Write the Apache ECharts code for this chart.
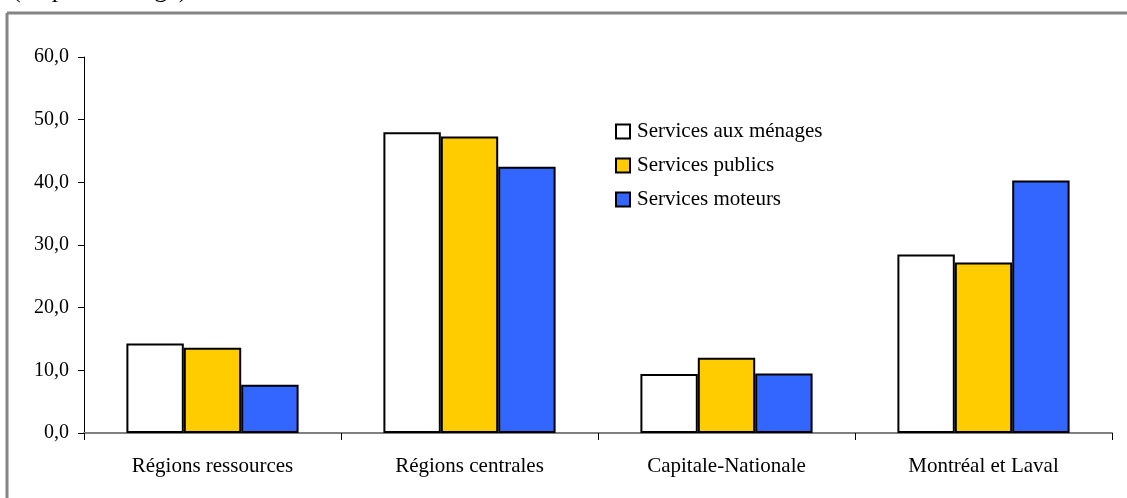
<!DOCTYPE html>
<html>
<head>
<meta charset="utf-8">
<script src="https://cdn.jsdelivr.net/npm/echarts@6/dist/echarts.min.js"></script>
<style>
html,body{margin:0;padding:0;background:#fff;}
#chart{width:1127px;height:498px;}
</style>
</head>
<body>
<div id="chart"></div>
<script>
var categories = ['Régions ressources', 'Régions centrales', 'Capitale-Nationale', 'Montréal et Laval'];
var seriesNames = ['Services aux ménages', 'Services publics', 'Services moteurs'];
var menages = [14.3, 48.0, 9.4, 28.5];
var publics = [13.6, 47.3, 12.0, 27.2];
var moteurs = [7.7, 42.5, 9.5, 40.3];
var colors = ['#FFFFFF', '#FFCC00', '#3366FF'];
var yTicks = { min: 0, max: 60, interval: 10 };
var unitText = '(en pourcentage)';

var FONT = '"Liberation Serif", "Times New Roman", serif';
var chart = echarts.init(document.getElementById('chart'), null, { renderer: 'canvas' });

function mkSeries(name, data, color) {
  return {
    name: name,
    type: 'bar',
    data: data,
    barGap: '0%',
    barCategoryGap: '33%',
    itemStyle: { color: color, borderColor: '#000', borderWidth: 2 },
    emphasis: { disabled: true }
  };
}

chart.setOption({
  animation: false,
  backgroundColor: '#fff',
  textStyle: { fontFamily: FONT },
  graphic: [
    { type: 'line', shape: { x1: 7, y1: 13, x2: 1127, y2: 13 }, style: { stroke: '#858585', lineWidth: 3 } },
    { type: 'line', shape: { x1: 7, y1: 13, x2: 7, y2: 498 }, style: { stroke: '#858585', lineWidth: 3 } },
    { type: 'text', left: 12, top: -23, style: { text: unitText, font: '26px ' + FONT, fill: '#000' } }
  ],
  grid: { left: 84, right: 15, top: 57, bottom: 65, containLabel: false },
  legend: {
    orient: 'vertical',
    left: 615,
    top: 121,
    padding: 0,
    itemWidth: 14,
    itemHeight: 14,
    itemGap: 13,
    icon: 'rect',
    itemStyle: { borderColor: '#000', borderWidth: 2 },
    textStyle: { fontFamily: FONT, fontSize: 21, color: '#000', lineHeight: 20, padding: [0, 0, 0, 2] },
    data: seriesNames
  },
  xAxis: {
    type: 'category',
    data: categories,
    axisLine: { lineStyle: { color: '#808080', width: 2 } },
    axisTick: { show: true, length: 7, lineStyle: { color: '#000', width: 1 } },
    axisLabel: { margin: 23, color: '#000', fontFamily: FONT, fontSize: 21 },
    splitLine: { show: false }
  },
  yAxis: {
    type: 'value',
    min: yTicks.min,
    max: yTicks.max,
    interval: yTicks.interval,
    axisLine: { show: true, lineStyle: { color: '#000', width: 1 } },
    axisTick: { show: true, length: 6, lineStyle: { color: '#000' } },
    axisLabel: {
      margin: 15, color: '#000', fontFamily: FONT, fontSize: 20,
      formatter: function (v) { return v.toFixed(1).replace('.', ','); }
    },
    splitLine: { show: false }
  },
  series: [
    mkSeries(seriesNames[0], menages, colors[0]),
    mkSeries(seriesNames[1], publics, colors[1]),
    mkSeries(seriesNames[2], moteurs, colors[2])
  ]
});
</script>
</body>
</html>
